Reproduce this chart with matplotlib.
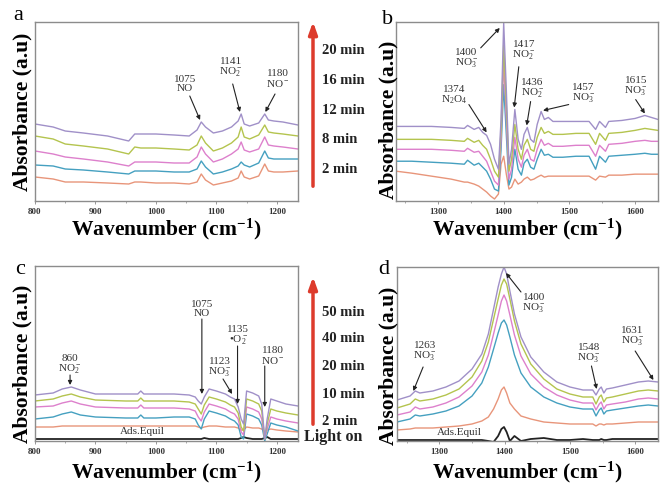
import matplotlib
matplotlib.use('Agg')
from matplotlib import pyplot as plt
from matplotlib.patches import FancyArrowPatch
from matplotlib.ticker import MultipleLocator

plt.rcParams['font.family'] = 'Liberation Serif'
plt.rcParams['mathtext.fontset'] = 'custom'
plt.rcParams['mathtext.rm'] = 'Liberation Serif'
plt.rcParams['mathtext.it'] = 'Liberation Serif:italic'
plt.rcParams['mathtext.bf'] = 'Liberation Serif:bold'

# ---- data (absorbance, arbitrary units) ----
# panel a: dark adsorption, 2-20 min
wn_a = [800, 830, 850, 880, 920, 955, 965, 975, 1000, 1030, 1055, 1068, 1075, 1082,
        1095, 1110, 1125, 1136, 1141, 1146, 1155, 1170, 1180, 1186, 1195, 1210, 1235]
a_2min = [24, 22, 19, 19, 18, 17, 19, 19, 18, 18, 17, 19, 27, 21, 16, 18, 20, 23, 30, 24, 22, 25, 37, 30, 29, 29, 30]
a_8min = [36, 35, 32, 31, 29, 27, 30, 30, 30, 29, 29, 32, 40, 34, 27, 29, 32, 35, 39, 36, 34, 38, 50, 43, 42, 42, 42]
a_12min = [50, 47, 44, 42, 39, 35, 39, 39, 39, 38, 38, 44, 54, 47, 39, 42, 47, 52, 59, 51, 49, 52, 64, 56, 55, 54, 52]
a_16min = [65, 62, 57, 55, 52, 47, 54, 53, 53, 52, 51, 56, 65, 58, 50, 53, 58, 64, 74, 64, 62, 66, 76, 69, 68, 67, 65]
a_20min = [77, 74, 70, 68, 65, 60, 67, 67, 67, 66, 65, 71, 79, 74, 68, 70, 74, 80, 87, 77, 75, 78, 87, 81, 80, 79, 76]

# panel b: dark adsorption, 2-20 min
wn_b = [1236, 1260, 1290, 1320, 1340, 1345, 1355, 1362, 1368, 1374, 1380, 1386, 1392, 1396,
        1400, 1404, 1408, 1412, 1417, 1422, 1427, 1431, 1436, 1441, 1446, 1451, 1457, 1462,
        1468, 1475, 1490, 1510, 1530, 1540, 1546, 1555, 1560, 1580, 1600, 1615, 1625, 1635]
b_2min = [30, 28, 25, 22, 19, 19, 17, 15, 12, 9, 5, 2, 7, 37, 45, 27, 12, 14, 22, 17, 19,
          22, 24, 21, 22, 24, 26, 24, 25, 25, 25, 25, 25, 21, 25, 24, 26, 26, 27, 27, 27, 27]
b_8min = [40, 40, 39, 38, 37, 41, 36, 38, 34, 30, 22, 12, 10, 52, 117, 67, 16, 24, 52, 32, 26,
          38, 42, 34, 32, 42, 52, 46, 47, 44, 44, 45, 45, 32, 45, 39, 45, 46, 47, 48, 47, 47]
b_12min = [52, 52, 52, 51, 50, 53, 49, 50, 45, 40, 30, 20, 16, 62, 140, 82, 22, 32, 64, 42, 34,
           46, 52, 42, 40, 52, 62, 56, 58, 55, 55, 56, 56, 45, 56, 50, 57, 58, 60, 61, 60, 60]
b_16min = [62, 62, 62, 61, 60, 63, 59, 61, 56, 52, 42, 30, 24, 72, 157, 97, 30, 42, 77, 52, 42,
           56, 62, 52, 50, 64, 74, 68, 70, 67, 67, 68, 68, 57, 68, 61, 68, 69, 71, 73, 72, 71]
b_20min = [75, 75, 75, 74, 73, 76, 72, 74, 69, 66, 57, 42, 32, 82, 179, 112, 37, 52, 92, 62, 52,
           67, 74, 62, 59, 77, 90, 82, 84, 80, 80, 80, 80, 72, 80, 74, 80, 81, 83, 86, 84, 82]

# panel c: light on, 2-50 min
wn_c = [800, 830, 845, 860, 875, 900, 950, 970, 975, 980, 1000, 1030, 1055, 1065, 1070, 1075, 1080,
        1088, 1100, 1115, 1123, 1130, 1136, 1141, 1145, 1150, 1160, 1170, 1175, 1180, 1184, 1190,
        1200, 1215, 1235]
c_equil = [2, 2, 2, 2, 2, 2, 2, 2, 2, 2, 2, 2, 2, 2, 2, 2, 3, 2, 2, 2, 2, 2, 2, 3, 4, 3, 2, 2, 2, 3, 4, 2, 2, 2, 2]
c_2min = [14, 14, 15, 15, 15, 15, 15, 15, 15, 15, 15, 15, 15, 15, 14, 13, 14, 15, 15, 14, 14, 14,
          13, 11, 11, 14, 13, 13, 12, 9, 11, 12, 11, 10, 9]
c_10min = [22, 24, 27, 29, 26, 24, 23, 23, 26, 23, 23, 24, 24, 22, 16, 12, 22, 30, 28, 25, 22, 20,
           16, 4, 2, 27, 25, 22, 16, 0, 7, 18, 16, 14, 10]
c_20min = [34, 35, 38, 40, 37, 34, 33, 33, 36, 33, 33, 33, 32, 30, 24, 20, 29, 37, 35, 32, 29, 27,
           22, 9, 6, 34, 32, 29, 22, 2, 12, 24, 22, 20, 18]
c_40min = [40, 42, 45, 47, 44, 41, 40, 40, 43, 40, 40, 40, 39, 37, 32, 27, 36, 44, 42, 39, 36, 34,
           28, 14, 10, 42, 40, 37, 30, 2, 17, 32, 30, 28, 26]
c_50min = [46, 48, 52, 54, 51, 47, 47, 47, 50, 47, 47, 47, 46, 44, 40, 37, 44, 52, 50, 47, 44, 42,
           34, 22, 17, 50, 48, 45, 37, 2, 22, 42, 40, 37, 35]

# panel d: light on, 2-50 min
wn_d = [1235, 1255, 1263, 1270, 1290, 1310, 1330, 1350, 1365, 1375, 1383, 1390, 1395, 1399, 1403,
        1408, 1415, 1425, 1440, 1460, 1480, 1500, 1520, 1535, 1540, 1545, 1548, 1552, 1556, 1565,
        1585, 1605, 1620, 1635]
d_equil = [1, 1, 1, 1, 1, 1, 1, 1, 1, 0, -1, 5, 12, 14, 9, 0, 5, 0, 2, 3, 1, 1, 2, 1, 1, 1, 2, 1,
           1, 2, 2, 2, 2, 2]
d_2min = [11, 12, 13, 13, 13, 14, 15, 17, 20, 24, 32, 42, 51, 54, 48, 38, 32, 25, 22, 19, 18, 17,
          17, 17, 15, 17, 17, 16, 17, 17, 18, 19, 19, 19]
d_10min = [19, 22, 26, 25, 27, 30, 35, 45, 58, 74, 92, 108, 118, 121, 116, 104, 86, 68, 54, 44, 38,
           34, 32, 32, 25, 31, 33, 27, 30, 31, 33, 35, 36, 35]
d_20min = [26, 29, 34, 32, 34, 38, 44, 55, 69, 86, 107, 126, 140, 146, 140, 126, 106, 85, 67, 54, 46,
           41, 38, 38, 31, 37, 39, 32, 36, 37, 39, 42, 43, 42]
d_40min = [33, 37, 42, 40, 42, 46, 52, 64, 80, 99, 122, 142, 156, 162, 157, 142, 120, 97, 77, 62, 52,
           47, 44, 44, 37, 44, 46, 39, 43, 44, 47, 50, 51, 50]
d_50min = [41, 45, 50, 48, 50, 54, 60, 72, 87, 107, 132, 154, 167, 174, 167, 150, 127, 104, 84, 69, 59,
           54, 51, 51, 46, 52, 54, 48, 52, 53, 56, 59, 60, 59]

dark_times = ['20 min', '16 min', '12 min', '8 min', '2 min']
light_times = ['50 min', '40 min', '20 min', '10 min', '2 min']

colors = ['#e8957a', '#45a0c0', '#dd80cc', '#b4c44e', '#a090c8']

W, H = 660, 485
fig = plt.figure(figsize=(W / 100, H / 100), dpi=100)


def add_panel(l, t, r, b, xlim, ylim):
    ax = fig.add_axes([l / W, 1 - b / H, (r - l) / W, (b - t) / H])
    ax.set_xlim(*xlim)
    ax.set_ylim(*ylim)
    ax.set_yticks([])
    ax.xaxis.set_major_locator(MultipleLocator(100))
    ax.xaxis.set_minor_locator(MultipleLocator(50))
    ax.tick_params(axis='x', which='major', direction='out', length=2.5, width=0.6,
                   pad=1.5, labelsize=6.5, colors='#888888', labelcolor='#333333')
    ax.tick_params(axis='x', which='minor', direction='out', length=1.5, width=0.5,
                   colors='#888888')
    for lab in ax.get_xticklabels():
        lab.set_fontweight('bold')
    for s in ax.spines.values():
        s.set_color('#8c8c8c')
        s.set_linewidth(1.0)
    return ax


def mark(ax, label, txt, tail, head):
    ax.text(txt[0], txt[1], label, ha='center', va='center', fontsize=8,
            color='#333333', linespacing=0.95)
    ax.annotate('', xy=head, xytext=tail,
                arrowprops=dict(arrowstyle='-|>', color='#222222', lw=0.8,
                                mutation_scale=6, shrinkA=0, shrinkB=0))


def fig_text(px, py, s, **kw):
    fig.text(px / W, 1 - py / H, s, **kw)


# panel a
ax = add_panel(35, 23, 298, 202, (800, 1235), (0, 179))
for y, c in zip([a_2min, a_8min, a_12min, a_16min, a_20min], colors):
    ax.plot(wn_a, y, color=c, lw=1.0)
mark(ax, '1075\nNO', (1048, 118), (1056, 105), (1073, 81))
mark(ax, '1141\nNO$_2^-$', (1124, 134), (1127, 117), (1139, 89))
mark(ax, '1180\nNO$^-$', (1202, 123), (1197, 107), (1181, 89))

# panel b
ax = add_panel(396, 23, 658, 202, (1236, 1635), (0, 180))
for y, c in zip([b_2min, b_8min, b_12min, b_16min, b_20min], colors):
    ax.plot(wn_b, y, color=c, lw=1.0)
mark(ax, '1400\nNO$_3^-$', (1343, 144), (1365, 154), (1394, 174))
mark(ax, '1417\nNO$_2^-$', (1431, 152), (1423, 135), (1416, 94))
mark(ax, '1374\nN$_2$O$_4$', (1324, 107), (1347, 97), (1374, 69))
mark(ax, '1436\nNO$_2^-$', (1444, 114), (1441, 100), (1435, 76))
mark(ax, '1457\nNO$_3^-$', (1521, 109), (1499, 97), (1460, 91))
mark(ax, '1615\nNO$_3^-$', (1601, 116), (1601, 102), (1615, 88))

# panel c
ax = add_panel(35, 267, 298, 442, (800, 1235), (0, 175))
ax.plot(wn_c, c_equil, color='#222222', lw=1.3)
for y, c in zip([c_2min, c_10min, c_20min, c_40min, c_50min], colors):
    ax.plot(wn_c, y, color=c, lw=1.0)
mark(ax, '860\nNO$_2^-$', (858, 77), (858, 66), (858, 56))
mark(ax, '1075\nNO', (1076, 133), (1076, 122), (1076, 47))
mark(ax, '1135\n•O$_2^-$', (1136, 106), (1135, 95), (1135, 37))
mark(ax, '1123\nNO$_3^-$', (1106, 74), (1111, 62), (1126, 47))
mark(ax, '1180\nNO$^-$', (1193, 86), (1180, 75), (1180, 34))
ax.text(978, 10, 'Ads.Equil', ha='center', va='center', fontsize=8, color='#333333')

# panel d
ax = add_panel(397, 268, 658, 442, (1235, 1635), (0, 174))
ax.plot(wn_d, d_equil, color='#222222', lw=1.3)
for y, c in zip([d_2min, d_10min, d_20min, d_40min, d_50min], colors):
    ax.plot(wn_d, y, color=c, lw=1.0)
mark(ax, '1400\nNO$_3^-$', (1445, 138), (1425, 149), (1402, 168))
mark(ax, '1263\nNO$_3^-$', (1278, 90), (1275, 74), (1260, 50))
mark(ax, '1548\nNO$_3^-$', (1529, 88), (1533, 75), (1541, 52))
mark(ax, '1631\nNO$_3^-$', (1596, 105), (1600, 90), (1628, 61))
ax.text(1330, 9, 'Ads.Equil', ha='center', va='center', fontsize=8, color='#333333')

# axis titles and panel letters
xlab = 'Wavenumber (cm$^{\\mathbf{-1}}$)'
ylab = 'Absorbance (a.u)'
for px, py in [(166, 229), (527, 229), (166, 472), (527, 472)]:
    fig_text(px, py, xlab, ha='center', va='center', fontsize=15.5, fontweight='bold')
for px, py in [(22, 112), (388, 120), (22, 364), (388, 366)]:
    fig_text(px, py, ylab, ha='center', va='center', rotation=90, fontsize=15.5,
             fontweight='bold')
for (px, py), s in zip([(18, 15), (388, 19), (20, 269), (384, 269)], 'abcd'):
    fig_text(px, py, s, ha='center', va='center', fontsize=16)

# time arrows between panels
for y0, y1 in [(190, 20), (428, 275)]:
    fig.add_artist(FancyArrowPatch((313 / W, 1 - y0 / H), (313 / W, 1 - y1 / H),
                                   transform=fig.transFigure,
                                   arrowstyle='-|>,head_length=0.7,head_width=0.25',
                                   mutation_scale=10, lw=2.5, color='#dd3b2c'))
for s, py in zip(dark_times, [51, 80, 110, 140, 170]):
    fig_text(322, py, s, ha='left', va='center', fontsize=10.5, fontweight='bold',
             color='#222222')
for s, py in zip(light_times, [312, 339, 367, 395, 422]):
    fig_text(322, py, s, ha='left', va='center', fontsize=10.5, fontweight='bold',
             color='#222222')
fig_text(304, 437, 'Light on', ha='left', va='center', fontsize=11.5, fontweight='bold',
         color='#222222')

plt.savefig('out.png', dpi=100)
plt.close()
